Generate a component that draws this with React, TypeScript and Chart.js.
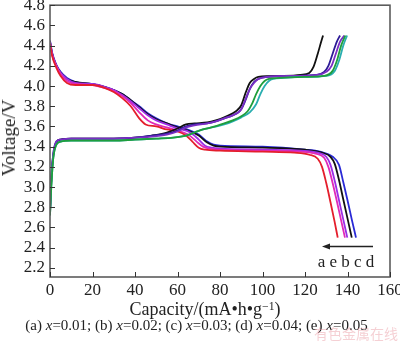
import React, { useEffect, useRef } from "react";
import { Chart, registerables } from "chart.js";

Chart.register(...registerables);

// ---- axes ----
const xTicks = [0, 20, 40, 60, 80, 100, 120, 140, 160];
const yTicks = [2.2, 2.4, 2.6, 2.8, 3.0, 3.2, 3.4, 3.6, 3.8, 4.0, 4.2, 4.4, 4.6, 4.8];
const xTitle = "Capacity/(mA•h•g";
const yTitle = "Voltage/V";

// ---- charge curves ----
const chBlackCap = [0, 0.6, 1.5, 3, 5, 10, 20, 30, 40, 48, 55, 60, 64, 68, 74, 78, 82, 86, 88, 90, 92, 94, 96, 98, 110, 118, 122, 124, 126, 127.5, 128.5];
const chBlackV = [2.73, 3.05, 3.3, 3.44, 3.47, 3.48, 3.48, 3.48, 3.49, 3.51, 3.54, 3.58, 3.62, 3.63, 3.64, 3.66, 3.69, 3.73, 3.76, 3.81, 3.93, 4.03, 4.07, 4.09, 4.1, 4.11, 4.13, 4.19, 4.32, 4.43, 4.5];

const chIndigoCap = [0, 0.6, 1.5, 3, 5, 10, 20, 30, 40, 48, 55, 60, 64, 68, 74, 78, 82, 86, 88, 90, 92, 94, 96, 98, 102, 115, 125, 129, 131, 133, 135, 136.5];
const chIndigoV = [2.75, 3.08, 3.32, 3.45, 3.47, 3.48, 3.48, 3.48, 3.49, 3.51, 3.53, 3.56, 3.6, 3.62, 3.63, 3.65, 3.68, 3.71, 3.73, 3.77, 3.86, 3.97, 4.04, 4.07, 4.09, 4.1, 4.11, 4.14, 4.2, 4.32, 4.44, 4.5];

const chPurpleCap = [0, 0.6, 1.5, 3, 5, 10, 20, 30, 40, 48, 55, 60, 64, 68, 74, 78, 82, 86, 88, 90, 92, 94, 96, 98, 102, 115, 126, 130, 132.5, 134.5, 136.5, 138.5];
const chPurpleV = [2.75, 3.08, 3.32, 3.45, 3.47, 3.48, 3.48, 3.48, 3.49, 3.5, 3.52, 3.55, 3.59, 3.61, 3.63, 3.65, 3.68, 3.71, 3.73, 3.77, 3.87, 3.97, 4.03, 4.07, 4.09, 4.1, 4.11, 4.14, 4.2, 4.32, 4.44, 4.5];

const chGreenCap = [0, 0.6, 1.5, 3, 5, 10, 20, 30, 40, 50, 58, 64, 68, 72, 76, 82, 86, 90, 93, 95, 97, 99, 101, 103, 108, 120, 129, 133, 135, 137, 139];
const chGreenV = [2.72, 3.0, 3.28, 3.42, 3.45, 3.46, 3.46, 3.46, 3.47, 3.48, 3.49, 3.51, 3.54, 3.57, 3.59, 3.63, 3.66, 3.7, 3.75, 3.82, 3.92, 4.0, 4.05, 4.07, 4.08, 4.09, 4.1, 4.15, 4.25, 4.4, 4.5];

const chTealCap = [0, 0.6, 1.5, 3, 5, 10, 20, 30, 40, 50, 58, 64, 68, 72, 76, 82, 86, 90, 94, 97, 99, 101, 103, 105, 110, 120, 130, 134, 136, 138, 139.8];
const chTealV = [2.72, 3.0, 3.28, 3.42, 3.45, 3.46, 3.46, 3.46, 3.47, 3.48, 3.49, 3.51, 3.54, 3.57, 3.59, 3.62, 3.65, 3.69, 3.74, 3.82, 3.92, 4.0, 4.05, 4.07, 4.08, 4.09, 4.1, 4.15, 4.25, 4.4, 4.5];

// ---- discharge curves ----
const dcRedCap = [0, 1, 3, 5, 8, 12, 20, 26, 30, 34, 38, 42, 45, 50, 55, 60, 64, 67, 70, 73, 80, 100, 115, 122, 126, 128, 130, 132, 134, 135.4];
const dcRedV = [4.42, 4.3, 4.18, 4.1, 4.03, 4.01, 4.01, 3.98, 3.94, 3.88, 3.8, 3.68, 3.62, 3.6, 3.57, 3.55, 3.51, 3.45, 3.39, 3.37, 3.36, 3.35, 3.34, 3.32, 3.28, 3.2, 3.04, 2.85, 2.65, 2.5];

const dcMagentaCap = [0, 1, 3, 5, 8, 12, 20, 26, 30, 34, 38, 42, 46, 50, 55, 60, 65, 69, 72, 75, 80, 100, 118, 125, 129, 131, 133, 135, 137, 138.8];
const dcMagentaV = [4.43, 4.31, 4.2, 4.12, 4.05, 4.02, 4.01, 3.98, 3.95, 3.9, 3.83, 3.74, 3.66, 3.62, 3.59, 3.56, 3.52, 3.45, 3.4, 3.38, 3.37, 3.36, 3.35, 3.33, 3.29, 3.2, 3.04, 2.86, 2.67, 2.5];

const dcVioletCap = [0, 1, 3, 5, 8, 12, 20, 26, 30, 34, 38, 42, 46, 50, 55, 60, 66, 70, 73, 76, 80, 100, 118, 126, 130, 132, 134, 136, 138, 139.9];
const dcVioletV = [4.44, 4.32, 4.2, 4.13, 4.07, 4.03, 4.02, 3.99, 3.96, 3.91, 3.85, 3.78, 3.71, 3.66, 3.62, 3.58, 3.54, 3.47, 3.41, 3.39, 3.38, 3.37, 3.36, 3.34, 3.3, 3.22, 3.06, 2.87, 2.68, 2.5];

const dcBlackCap = [0, 1, 3, 5, 8, 12, 20, 26, 30, 34, 38, 42, 46, 50, 55, 60, 66, 70, 74, 77, 80, 100, 120, 128, 132, 134, 136, 138, 140, 142];
const dcBlackV = [4.44, 4.32, 4.2, 4.13, 4.07, 4.04, 4.02, 3.99, 3.96, 3.92, 3.86, 3.79, 3.72, 3.67, 3.63, 3.59, 3.55, 3.51, 3.44, 3.41, 3.4, 3.39, 3.37, 3.34, 3.3, 3.23, 3.07, 2.88, 2.69, 2.5];

const dcBlueCap = [0, 1, 3, 5, 8, 12, 20, 26, 30, 34, 38, 42, 46, 50, 55, 60, 66, 70, 74, 77, 80, 100, 120, 127, 133, 136, 138, 140, 142, 144];
const dcBlueV = [4.45, 4.33, 4.21, 4.14, 4.08, 4.04, 4.02, 3.99, 3.96, 3.92, 3.86, 3.8, 3.73, 3.68, 3.63, 3.6, 3.56, 3.52, 3.45, 3.42, 3.41, 3.4, 3.37, 3.35, 3.3, 3.22, 3.05, 2.87, 2.68, 2.5];

// ---- legend / annotation ----
const legendLetters = ["a", "e", "b", "c", "d"];
const legendPos = { cap: 139.3, v: 2.258 };
const arrowFromCap = 152;
const arrowToCap = 128;
const arrowV = 2.417;
const captionItems = [
  { tag: "(a)", val: "0.01" },
  { tag: "(b)", val: "0.02" },
  { tag: "(c)", val: "0.03" },
  { tag: "(d)", val: "0.04" },
  { tag: "(e)", val: "0.05" },
];

const curves = [
  { cap: chGreenCap, v: chGreenV, color: "#1f9e3c" },
  { cap: chTealCap, v: chTealV, color: "#2aaeb0" },
  { cap: chPurpleCap, v: chPurpleV, color: "#7a2ec4" },
  { cap: chIndigoCap, v: chIndigoV, color: "#2c1a96" },
  { cap: chBlackCap, v: chBlackV, color: "#111111" },
  { cap: dcRedCap, v: dcRedV, color: "#e41e2c" },
  { cap: dcMagentaCap, v: dcMagentaV, color: "#e02ab8" },
  { cap: dcVioletCap, v: dcVioletV, color: "#9a2ee6" },
  { cap: dcBlackCap, v: dcBlackV, color: "#111111" },
  { cap: dcBlueCap, v: dcBlueV, color: "#2a2ad6" },
];

const SERIF = '"Liberation Serif", "Times New Roman", serif';

const framePlugin = {
  id: "frame",
  afterDraw(chart: any) {
    const { ctx, chartArea, scales } = chart;
    const { left, right, top, bottom } = chartArea;
    const x = scales.x;
    const y = scales.y;
    ctx.save();
    ctx.strokeStyle = "#5c5c5c";
    ctx.lineWidth = 1.6;
    ctx.strokeRect(left, top, right - left, bottom - top);
    ctx.strokeStyle = "#333";
    ctx.lineWidth = 1;
    xTicks.forEach((v) => {
      const px = Math.round(x.getPixelForValue(v)) + 0.5;
      ctx.beginPath();
      ctx.moveTo(px, bottom);
      ctx.lineTo(px, bottom - 5);
      ctx.stroke();
    });
    yTicks.forEach((v) => {
      const py = Math.round(y.getPixelForValue(v)) + 0.5;
      ctx.beginPath();
      ctx.moveTo(left, py);
      ctx.lineTo(left + 5, py);
      ctx.stroke();
    });
    // arrow
    const ay = Math.round(y.getPixelForValue(arrowV)) + 0.5;
    const ax1 = x.getPixelForValue(arrowFromCap);
    const ax2 = x.getPixelForValue(arrowToCap);
    ctx.strokeStyle = "#222";
    ctx.fillStyle = "#222";
    ctx.lineWidth = 1.3;
    ctx.beginPath();
    ctx.moveTo(ax1, ay);
    ctx.lineTo(ax2 + 4, ay);
    ctx.stroke();
    ctx.beginPath();
    ctx.moveTo(ax2, ay);
    ctx.lineTo(ax2 + 8, ay - 3);
    ctx.lineTo(ax2 + 8, ay + 3);
    ctx.closePath();
    ctx.fill();
    // letters
    ctx.font = "17px " + SERIF;
    ctx.textAlign = "center";
    ctx.textBaseline = "middle";
    ctx.fillText(legendLetters.join(" "), x.getPixelForValue(legendPos.cap), y.getPixelForValue(legendPos.v));
    ctx.restore();
  },
};

export default function App() {
  const ref = useRef<HTMLCanvasElement | null>(null);

  useEffect(() => {
    document.body.style.margin = "0";
    document.body.style.overflow = "hidden";
    const canvas = ref.current;
    if (!canvas) return;
    const chart = new Chart(canvas, {
      type: "line",
      data: {
        datasets: curves.map((c) => ({
          data: c.cap.map((cv, i) => ({ x: cv, y: c.v[i] })),
          borderColor: c.color,
          backgroundColor: c.color,
          borderWidth: 1.8,
          pointRadius: 0,
          fill: false,
          cubicInterpolationMode: "monotone" as const,
        })),
      },
      options: {
        animation: false,
        responsive: false,
        devicePixelRatio: 1,
        layout: { padding: { top: 15, right: 22, left: 0, bottom: 0 } },
        plugins: { legend: { display: false }, tooltip: { enabled: false } },
        scales: {
          x: {
            type: "linear",
            min: 0,
            max: 160,
            grid: { display: false, drawTicks: false },
            border: { display: false },
            afterBuildTicks: (s: any) => {
              s.ticks = xTicks.map((v) => ({ value: v }));
            },
            afterFit: (s: any) => {
              s.height = 39;
            },
            ticks: {
              padding: 3,
              autoSkip: false,
              maxRotation: 0,
              color: "#222",
              font: { family: SERIF, size: 17 },
              callback: (v: any) => String(v),
            },
          },
          y: {
            type: "linear",
            min: 2.11,
            max: 4.8,
            grid: { display: false, drawTicks: false },
            border: { display: false },
            afterBuildTicks: (s: any) => {
              s.ticks = yTicks.map((v) => ({ value: v }));
            },
            afterFit: (s: any) => {
              s.width = 50;
            },
            ticks: {
              padding: 5,
              autoSkip: false,
              color: "#222",
              font: { family: SERIF, size: 17 },
              callback: (v: any) => Number(v).toFixed(1),
            },
          },
        },
      },
      plugins: [framePlugin],
    });
    return () => chart.destroy();
  }, []);

  return (
    <div style={{ position: "relative", width: 400, height: 346, overflow: "hidden", background: "#fff" }}>
      <canvas
        ref={ref}
        width={412}
        height={326}
        style={{ position: "absolute", top: -10, left: 0, width: 412, height: 326 }}
      />
      <div
        style={{
          position: "absolute",
          left: 9,
          top: 138,
          width: 0,
          height: 0,
        }}
      >
        <div
          style={{
            position: "absolute",
            left: 0,
            top: 0,
            transform: "translate(-50%, -50%) rotate(-90deg)",
            fontFamily: SERIF,
            fontSize: 19,
            lineHeight: "20px",
            color: "#222",
            whiteSpace: "nowrap",
          }}
        >
          {yTitle}
        </div>
      </div>
      <div
        style={{
          position: "absolute",
          top: 298,
          left: 0,
          width: 410,
          textAlign: "center",
          fontFamily: SERIF,
          fontSize: 18,
          lineHeight: "22px",
          color: "#222",
          whiteSpace: "nowrap",
        }}
      >
        {xTitle}
        <span style={{ position: "relative", top: "-0.45em", fontSize: "0.65em", lineHeight: 0 }}>−1</span>)
      </div>
      <div
        style={{
          position: "absolute",
          top: 316,
          left: 0,
          width: 393,
          textAlign: "center",
          fontFamily: SERIF,
          fontSize: 15,
          lineHeight: "18px",
          color: "#222",
          whiteSpace: "nowrap",
        }}
      >
        {captionItems.map((c, i) => (
          <span key={i}>
            {c.tag} <i>x</i>={c.val}
            {i < captionItems.length - 1 ? "; " : ""}
          </span>
        ))}
      </div>
      <div
        style={{
          position: "absolute",
          top: 325,
          left: 314,
          fontFamily: '"Noto Sans CJK SC", sans-serif',
          fontSize: 14,
          lineHeight: "16px",
          color: "rgba(232,150,160,0.45)",
          whiteSpace: "nowrap",
        }}
      >
        有色金属在线
      </div>
    </div>
  );
}
